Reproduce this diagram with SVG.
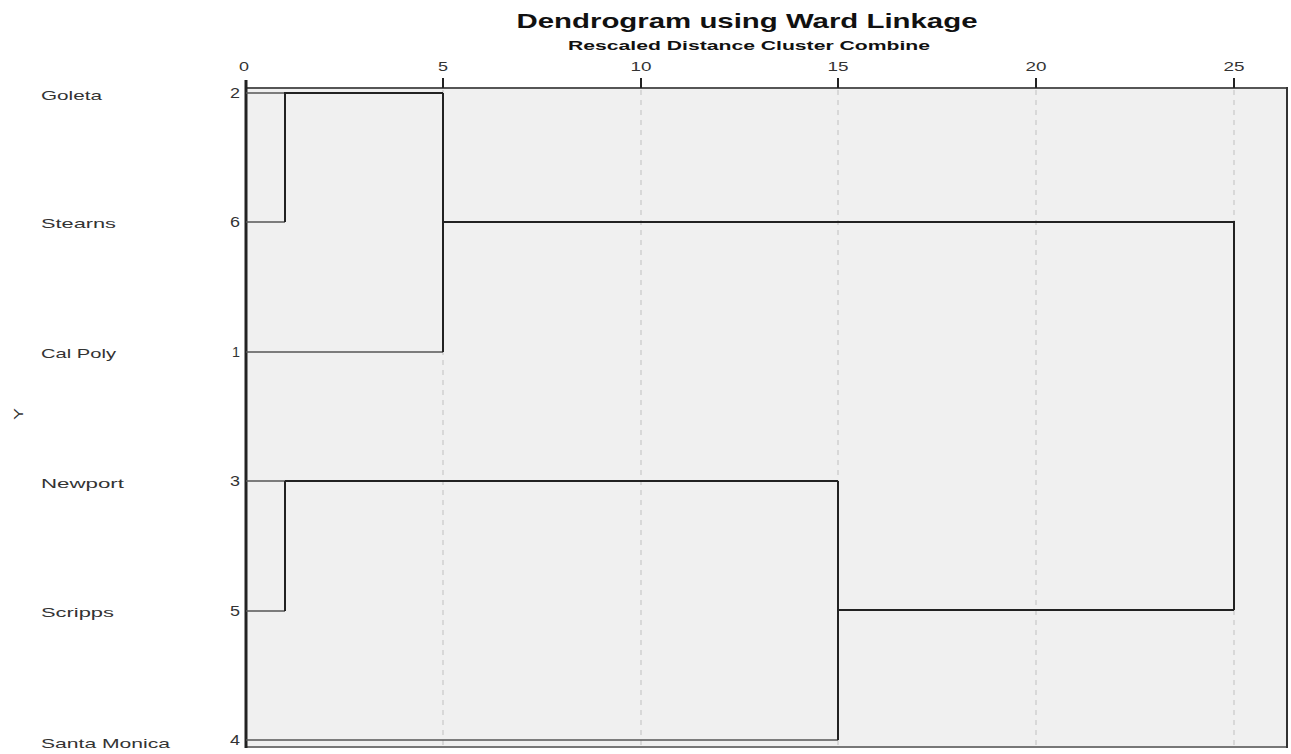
<svg xmlns="http://www.w3.org/2000/svg" width="1291" height="754" viewBox="0 0 1291 754">
<style>
.t{font-family:"Liberation Sans",Arial,sans-serif;fill:#111;font-weight:bold}
.lab{font-family:"Liberation Sans",Arial,sans-serif;font-size:13px;fill:#333}
.num{font-family:"Liberation Sans",Arial,sans-serif;font-size:14px;fill:#333;text-anchor:end}
.tick{font-family:"Liberation Sans",Arial,sans-serif;font-size:13px;fill:#333;text-anchor:middle}
.grid{stroke:#c8c8c8;stroke-width:1.2;stroke-dasharray:5,5;fill:none}
.br{stroke:#222;stroke-width:2;fill:none}
.leaf{stroke:#555;stroke-width:1.6;fill:none}
</style>
<rect width="1291" height="754" fill="#ffffff"/>
<g id="titles">
<text class="t" x="747" y="28" font-size="21" text-anchor="middle" textLength="461" lengthAdjust="spacingAndGlyphs">Dendrogram using Ward Linkage</text>
<text class="t" x="749" y="50" font-size="13" text-anchor="middle" textLength="362" lengthAdjust="spacingAndGlyphs">Rescaled Distance Cluster Combine</text>
</g>
<g id="plot">
<rect x="246" y="88" width="1041" height="659" fill="#f0f0f0"/>
<line class="grid" x1="443" y1="90" x2="443" y2="746"/>
<line class="grid" x1="641" y1="90" x2="641" y2="746"/>
<line class="grid" x1="838" y1="90" x2="838" y2="746"/>
<line class="grid" x1="1036" y1="90" x2="1036" y2="746"/>
<line class="grid" x1="1234" y1="90" x2="1234" y2="746"/>
<line x1="246" y1="88" x2="1287" y2="88" stroke="#555" stroke-width="2"/>
<line x1="246" y1="747" x2="1287" y2="747" stroke="#777" stroke-width="2"/>
<line x1="1287" y1="87" x2="1287" y2="748" stroke="#333" stroke-width="2"/>
<line x1="246" y1="80" x2="246" y2="748" stroke="#222" stroke-width="3"/>
</g>
<g id="axis">
<g stroke="#222" stroke-width="2">
<line x1="443" y1="78" x2="443" y2="88"/>
<line x1="641" y1="78" x2="641" y2="88"/>
<line x1="838" y1="78" x2="838" y2="88"/>
<line x1="1036" y1="78" x2="1036" y2="88"/>
<line x1="1234" y1="78" x2="1234" y2="88"/>
</g>
<text class="tick" x="244" y="71" textLength="10" lengthAdjust="spacingAndGlyphs">0</text>
<text class="tick" x="443" y="71" textLength="10" lengthAdjust="spacingAndGlyphs">5</text>
<text class="tick" x="641" y="71" textLength="21" lengthAdjust="spacingAndGlyphs">10</text>
<text class="tick" x="838" y="71" textLength="21" lengthAdjust="spacingAndGlyphs">15</text>
<text class="tick" x="1036" y="71" textLength="21" lengthAdjust="spacingAndGlyphs">20</text>
<text class="tick" x="1234" y="71" textLength="21" lengthAdjust="spacingAndGlyphs">25</text>
<text class="lab" transform="translate(23,414) rotate(-90)" text-anchor="middle" font-size="14" textLength="12" lengthAdjust="spacingAndGlyphs">Y</text>
</g>
<g id="leaf-goleta"><text class="lab" x="41" y="100" textLength="61" lengthAdjust="spacingAndGlyphs">Goleta</text><text class="num" x="240" y="98" textLength="10" lengthAdjust="spacingAndGlyphs">2</text></g>
<g id="leaf-stearns"><text class="lab" x="41" y="228" textLength="75" lengthAdjust="spacingAndGlyphs">Stearns</text><text class="num" x="240" y="227" textLength="10" lengthAdjust="spacingAndGlyphs">6</text></g>
<g id="leaf-calpoly"><text class="lab" x="41" y="358" textLength="75" lengthAdjust="spacingAndGlyphs">Cal Poly</text><text class="num" x="240" y="357" textLength="8" lengthAdjust="spacingAndGlyphs">1</text></g>
<g id="leaf-newport"><text class="lab" x="41" y="488" textLength="83" lengthAdjust="spacingAndGlyphs">Newport</text><text class="num" x="240" y="486" textLength="10" lengthAdjust="spacingAndGlyphs">3</text></g>
<g id="leaf-scripps"><text class="lab" x="41" y="617" textLength="73" lengthAdjust="spacingAndGlyphs">Scripps</text><text class="num" x="240" y="616" textLength="10" lengthAdjust="spacingAndGlyphs">5</text></g>
<g id="leaf-santamonica"><text class="lab" x="41" y="748" textLength="129" lengthAdjust="spacingAndGlyphs">Santa Monica</text><text class="num" x="240" y="745" textLength="10" lengthAdjust="spacingAndGlyphs">4</text></g>
<g id="connectors">
<path class="leaf" d="M246,93 H285 M246,222 H285 M246,352 H443 M246,481 H285 M246,611 H285 M246,740 H838"/>
<path class="br" d="M285,222 V93 H443 M285,481 V611"/>
<path class="br" d="M443,93 V352 M443,222 H1234 V610"/>
<path class="br" d="M285,481 H838 M838,481 V740 M838,610 H1234"/>
</g>
</svg>
